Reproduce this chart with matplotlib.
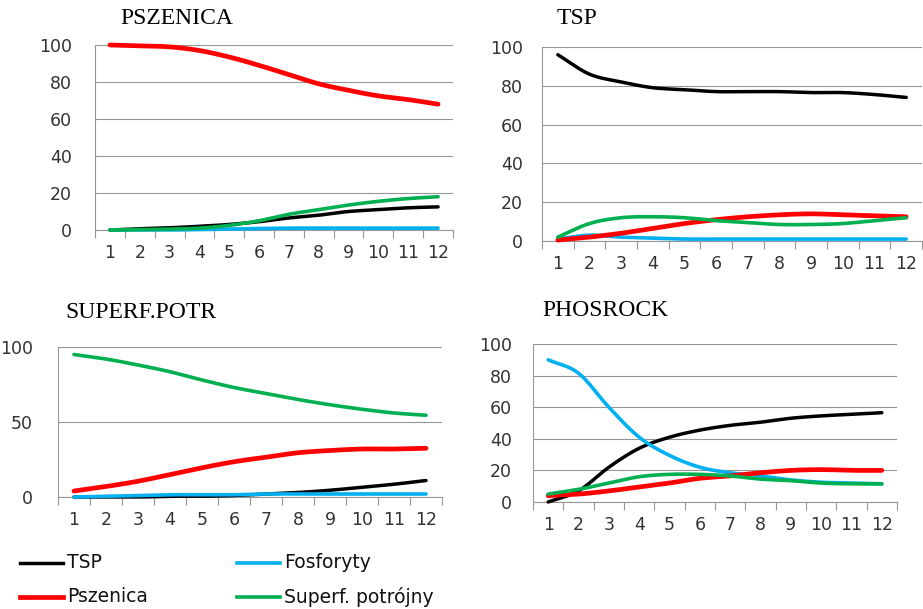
import matplotlib
matplotlib.use("Agg")
import matplotlib.pyplot as plt
from matplotlib.lines import Line2D
import numpy as np

periods = list(range(1, 13))
series_names = ["TSP", "Fosforyty", "Pszenica", "Superf. potrójny"]
colors = ["#000000", "#00B0F0", "#FF0000", "#00B050"]
widths = [2.5, 2.6, 3.4, 2.6]

# PSZENICA panel
psz_tsp = [0, 0.7, 1.2, 2, 3, 4.5, 6.5, 8, 10, 11, 12, 12.5]
psz_fos = [0, 0, 0, 0.3, 0.5, 0.8, 1, 1, 1, 1, 1, 1]
psz_psz = [100, 99.5, 99, 97, 93.5, 89, 84, 79, 75.5, 72.5, 70.5, 68]
psz_sup = [0, 0.2, 0.5, 1, 2.5, 5, 8.5, 11, 13.5, 15.5, 17, 18]

# TSP panel
tsp_tsp = [96, 86, 82, 79, 78, 77, 77, 77, 76.5, 76.5, 75.5, 74]
tsp_fos = [1, 3, 2, 1.5, 1, 1, 1, 1, 1, 1, 1, 1]
tsp_psz = [0.5, 2, 4, 6.5, 9, 11, 12.5, 13.5, 14, 13.5, 13, 12.5]
tsp_sup = [2, 9, 12, 12.5, 12, 10.5, 9.5, 8.5, 8.5, 9, 10.5, 12]

# SUPERF.POTR panel
sup_tsp = [0, 0, 0, 0.5, 0.5, 1, 2, 3, 4.5, 6.5, 8.5, 11]
sup_fos = [0, 0.5, 1, 1.5, 1.5, 1.5, 2, 2, 2, 2, 2, 2]
sup_psz = [4, 7, 10.5, 15, 19.5, 23.5, 26.5, 29.5, 31, 32, 32, 32.5]
sup_sup = [95, 92, 88, 83.5, 78, 73, 69, 65, 61.5, 58.5, 56, 54.5]

# PHOSROCK panel
pho_tsp = [0, 7, 22, 34, 41, 45.5, 48.5, 50.5, 53, 54.5, 55.5, 56.5]
pho_fos = [90, 81.5, 60, 41, 29.5, 22, 18.5, 16.5, 14, 12.5, 12, 11.5]
pho_psz = [4, 5, 7, 9.5, 12, 15, 16.5, 18.5, 20, 20.5, 20, 20]
pho_sup = [5, 8, 12, 16, 17.5, 17.5, 16.5, 14.5, 13.5, 12, 11.5, 11.5]

panels = [
    ("PSZENICA", [psz_tsp, psz_fos, psz_psz, psz_sup], [0, 20, 40, 60, 80, 100],
     [95, 453, 45, 230], (120, 19), 16.5),
    ("TSP", [tsp_tsp, tsp_fos, tsp_psz, tsp_sup], [0, 20, 40, 60, 80, 100],
     [542, 922, 47, 241], (557, 19), 13.5),
    ("SUPERF.POTR", [sup_tsp, sup_fos, sup_psz, sup_sup], [0, 50, 100],
     [58, 442, 347, 497], (65, 312), 18),
    ("PHOSROCK", [pho_tsp, pho_fos, pho_psz, pho_sup], [0, 20, 40, 60, 80, 100],
     [533, 897, 344, 502], (542, 311), 15),
]

W, H = 923, 609
fig = plt.figure(figsize=(W / 100, H / 100), dpi=100)
grid_c = "#969696"


def smooth(x, y, n=12):
    x = np.asarray(x, float)
    y = np.asarray(y, float)
    px = np.concatenate([[2 * x[0] - x[1]], x, [2 * x[-1] - x[-2]]])
    py = np.concatenate([[2 * y[0] - y[1]], y, [2 * y[-1] - y[-2]]])
    xs, ys = [], []
    t = np.linspace(0, 1, n, endpoint=False)
    for i in range(1, len(px) - 2):
        p0, p1, p2, p3 = py[i - 1], py[i], py[i + 1], py[i + 2]
        ys.append(0.5 * ((2 * p1) + (-p0 + p2) * t + (2 * p0 - 5 * p1 + 4 * p2 - p3) * t ** 2
                         + (-p0 + 3 * p1 - 3 * p2 + p3) * t ** 3))
        xs.append(px[i] + (px[i + 1] - px[i]) * t)
    xs.append([x[-1]])
    ys.append([y[-1]])
    return np.concatenate(xs), np.concatenate(ys)


for title, data, yt, (l, r, t, b), (tx, ty), ypad in panels:
    ax = fig.add_axes([l / W, 1 - b / H, (r - l) / W, (b - t) / H])
    ax.set_xlim(0.5, 12.5)
    ax.set_ylim(0, 100)
    for ys, c, lw in zip(data, colors, widths):
        sx, sy = smooth(periods, ys)
        ax.plot(sx, sy, color=c, lw=lw, solid_capstyle="round", clip_on=False, zorder=3)
    ax.set_yticks(yt)
    ax.yaxis.grid(True, color=grid_c, lw=0.8)
    ax.set_axisbelow(True)
    ax.set_xticks(periods)
    ax.set_xticklabels([str(p) for p in periods])
    ax.set_xticks(np.arange(0.5, 13, 1), minor=True)
    ax.tick_params(axis="x", which="major", length=0, pad=10, labelsize=12.5, colors="#333333")
    ax.tick_params(axis="x", which="minor", length=6, color=grid_c, width=0.8)
    ax.tick_params(axis="y", length=0, pad=ypad, labelsize=12.5, colors="#333333")
    for s in ["top", "right"]:
        ax.spines[s].set_visible(False)
    for s in ["left", "bottom"]:
        ax.spines[s].set_color(grid_c)
        ax.spines[s].set_linewidth(0.8)
    fig.text(tx / W, 1 - ty / H, title, family="Liberation Serif", fontsize=17,
             ha="left", va="center")

# legend
entries = [(0, 20, 563), (1, 237, 563), (2, 20, 597), (3, 237, 597)]
for idx, x0, y0 in entries:
    fig.add_artist(Line2D([x0 / W, (x0 + 43) / W], [1 - y0 / H, 1 - y0 / H],
                          color=colors[idx], lw=widths[idx], transform=fig.transFigure))
    fig.text((x0 + 47) / W, 1 - y0 / H, series_names[idx], fontsize=13.5,
             ha="left", va="center", color="#111111")

fig.savefig("out.png", dpi=100)
